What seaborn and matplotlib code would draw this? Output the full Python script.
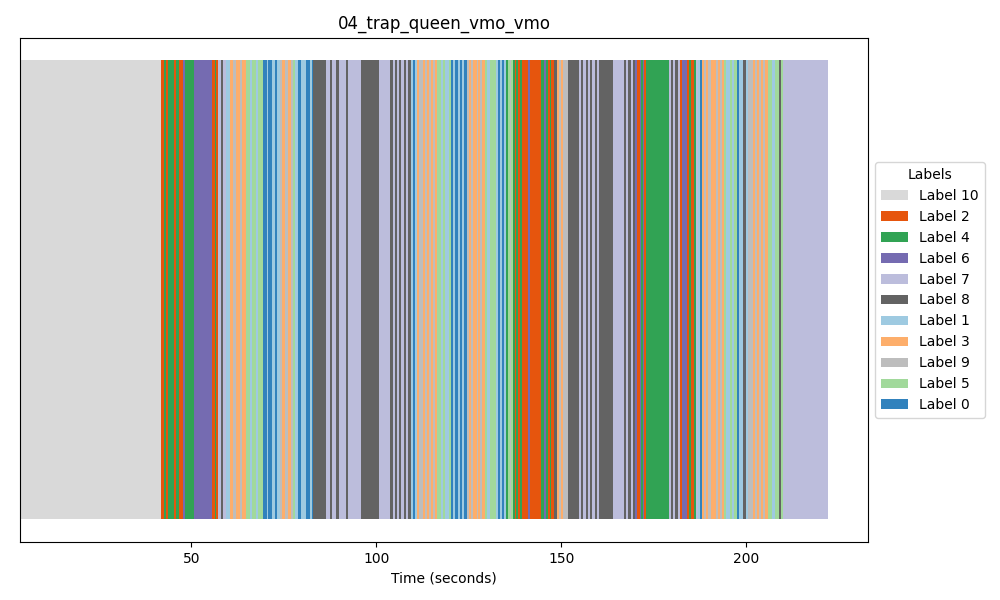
import matplotlib
matplotlib.use("Agg")
import matplotlib.pyplot as plt
from matplotlib.patches import Patch
import seaborn as sns

title = "04_trap_queen_vmo_vmo"
track_start = 3.75
track_limit = 232.97
legend_order = [10, 2, 4, 6, 7, 8, 1, 3, 9, 5, 0]

# Segment end times (seconds) and their labels, chunk by chunk, aligned one to one
ends_a = [41.80,42.69,43.07,43.61,45.31,45.94,46.58,47.75,48.29,50.80,55.59,56.40,56.67,57.29,57.94,58.56,59.38,60.47,61.28,62.09,63.17,63.80,64.89,65.80,66.51,67.43,68.14,69.49,70.41,70.84,71.76]
labs_a = [10,2,4,2,4,2,4,2,6,4,6,2,4,2,7,8,7,1,3,9,3,9,3,5,1,5,1,5,0,1,0]
ends_b = [72.65,73.11,74.00,74.46,75.36,76.25,77.06,77.60,78.14,78.87,79.60,81.03,82.11,82.57,83.00,86.45,87.53,88.07,89.07,89.96,91.85,92.39,95.91,100.77]
labs_b = [1,0,1,9,3,9,3,9,5,1,0,1,0,1,0,8,7,8,7,8,7,8,7,8]
ends_c = [103.78,104.59,105.14,105.68,106.22,106.76,107.57,108.11,108.65,109.46,110.00,110.54,111.00,111.54,112.51,113.05,113.78,114.32,114.86,115.41,115.95,116.41,117.38,118.11,118.65,119.54,120.19,120.81,121.35,122.16,122.70,123.24,123.78,124.59,125.05,125.68,126.22,127.30,127.57,128.11,128.65,129.46,130.00,130.81,132.43,132.89,133.51,133.97,134.59,135.05]
labs_c = [7,8,7,8,7,8,7,8,7,8,1,0,1,3,9,3,9,3,9,3,9,3,5,1,5,1,5,0,1,0,1,0,1,0,9,3,9,3,9,3,9,3,5,1,5,1,0,1,0,1]
ends_d = [135.68,136.22,136.49,137.03,137.57,137.84,138.38,138.92,139.46,141.08,141.62,144.68,145.49,145.95,146.49,147.03,147.38,148.11,148.92,149.54,150.08,150.62,151.89,154.86,155.41,155.95,156.76,157.30,157.84,158.38,159.19,159.73,160.27,164.05]
labs_d = [4,5,9,5,4,2,4,2,4,2,6,2,4,6,4,2,4,2,8,3,9,3,9,8,7,8,7,8,7,8,7,8,7,8]
ends_e = [167.03,167.57,168.11,168.92,169.46,170.00,170.54,171.43,171.70,172.24,172.43,173.05,179.19,179.73,180.27,180.81,181.62,182.16,182.70,184.05,184.59,185.14,185.95,186.49,187.03,187.57,188.11,188.65,189.19,189.81,190.54,191.89,192.43,192.97,193.51,194.05,194.59,195.68]
labs_e = [7,8,7,8,7,8,6,2,6,4,6,2,4,7,8,7,8,7,2,6,2,4,2,4,7,1,0,3,9,3,9,3,9,3,9,3,5,1]
ends_f = [196.22,196.76,197.49,198.11,199.27,200.00,200.54,201.89,202.51,202.97,203.59,204.05,204.68,205.22,205.95,207.03,207.84,208.92,209.46,210.00,222.16]
labs_f = [5,1,5,0,1,8,1,9,3,9,3,9,3,9,3,5,1,5,8,5,7]

seg_ends = ends_a + ends_b + ends_c + ends_d + ends_e + ends_f
seg_labels = labs_a + labs_b + labs_c + labs_d + labs_e + labs_f

tab = sns.color_palette("tab20c", 20)
palette = {"Label %d" % i: tab[j] for i, j in zip(range(11), [0, 2, 4, 6, 8, 10, 12, 14, 16, 18, 19])}

edges = [track_start] + seg_ends
starts = edges[:-1]
names = ["Label %d" % v for v in seg_labels]

fig, ax = plt.subplots(figsize=(10, 6), dpi=100)
sns.histplot(x=starts, weights=[1] * len(starts), bins=edges, hue=names, palette=palette,
             element="bars", multiple="layer", alpha=1, linewidth=0, legend=False, ax=ax)

ax.set_xlim(track_start, track_limit)
ax.set_ylim(-0.05, 1.048)
ax.set_yticks([])
ax.set_ylabel("")
ax.set_xticks([50, 100, 150, 200])
ax.set_xlabel("Time (seconds)")
ax.set_title(title, pad=6.7)
handles = [Patch(facecolor=palette["Label %d" % i], label="Label %d" % i) for i in legend_order]
ax.legend(handles=handles, title="Labels", loc="center left", bbox_to_anchor=(1.0, 0.5))
fig.subplots_adjust(left=0.0203, right=0.868, top=1 - 37.6 / 600, bottom=1 - 542.4 / 600)
fig.savefig("out.png", dpi=100)
